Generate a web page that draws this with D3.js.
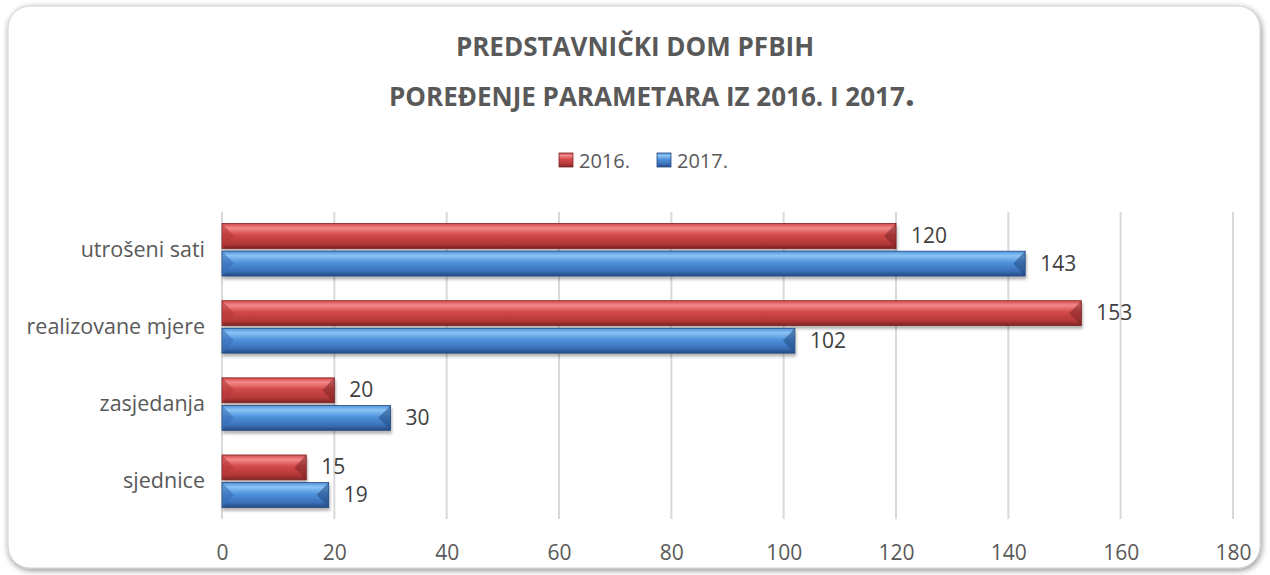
<!DOCTYPE html>
<html>
<head>
<meta charset="utf-8">
<script src="https://cdn.jsdelivr.net/npm/d3@7"></script>
<style>
  html, body { margin: 0; padding: 0; background: #fff; }
  svg { display: block; font-family: "Open Sans", "Liberation Sans", sans-serif; }
</style>
</head>
<body>
<svg id="chart" width="1270" height="575"></svg>
<script>
"use strict";

var categories = ["utrošeni sati", "realizovane mjere", "zasjedanja", "sjednice"];
var seriesNames = ["2016.", "2017."];
var values2016 = [120, 153, 20, 15];
var values2017 = [143, 102, 30, 19];
var xTicks = [0, 20, 40, 60, 80, 100, 120, 140, 160, 180];
var titleLines = ["PREDSTAVNIČKI DOM PFBIH", "POREĐENJE PARAMETARA IZ 2016. I 2017"];

(function () {
    var svg = d3.select("#chart"),
        defs = svg.append("defs"),
        margin = { left: 222, right: 37, top: 212, bottom: 56 },
        W = 1270,
        H = 575,
        font = "\"Open Sans\", \"Liberation Sans\", sans-serif",
        colors = {
            "2016.": ["#f48a8a", "#d24a4a", "#b53838", "#7e2424"],
            "2017.": ["#8cc4f5", "#4f93dc", "#3a70b8", "#244a80"]
        };

    // frame shadow
    var sh = defs.append("filter").attr("id", "frameShadow")
        .attr("x", "-5%").attr("y", "-5%").attr("width", "110%").attr("height", "115%");
    sh.append("feGaussianBlur").attr("in", "SourceAlpha").attr("stdDeviation", 3);
    sh.append("feOffset").attr("dx", 1).attr("dy", 2).attr("result", "b");
    sh.append("feComponentTransfer").append("feFuncA").attr("type", "linear").attr("slope", 0.45);
    var m = sh.append("feMerge");
    m.append("feMergeNode");
    m.append("feMergeNode").attr("in", "SourceGraphic");

    var bs = defs.append("filter").attr("id", "barShadow")
        .attr("x", "-2%").attr("y", "-20%").attr("width", "105%").attr("height", "160%");
    bs.append("feGaussianBlur").attr("in", "SourceAlpha").attr("stdDeviation", 1.5);
    bs.append("feOffset").attr("dx", 1).attr("dy", 3);
    bs.append("feComponentTransfer").append("feFuncA").attr("type", "linear").attr("slope", 0.3);
    var bm = bs.append("feMerge");
    bm.append("feMergeNode");
    bm.append("feMergeNode").attr("in", "SourceGraphic");

    seriesNames.forEach(function (s, i) {
        var c = colors[s];
        var g = defs.append("linearGradient").attr("id", "grad" + i)
            .attr("x1", 0).attr("y1", 0).attr("x2", 0).attr("y2", 1);
        g.append("stop").attr("offset", "0%").attr("stop-color", c[1]);
        g.append("stop").attr("offset", "18%").attr("stop-color", c[0]);
        g.append("stop").attr("offset", "45%").attr("stop-color", c[1]);
        g.append("stop").attr("offset", "80%").attr("stop-color", c[2]);
        g.append("stop").attr("offset", "100%").attr("stop-color", c[3]);
    });

    svg.append("rect")
        .attr("x", 8).attr("y", 6)
        .attr("width", 1252).attr("height", 562)
        .attr("rx", 22)
        .attr("fill", "#fff")
        .attr("stroke", "#d0d0d0")
        .attr("filter", "url(#frameShadow)");

    // title (second line ends in an oversized full stop, as in the original)
    var titles = svg.selectAll("text.title")
        .data(titleLines)
        .enter().append("text")
        .attr("class", "title")
        .attr("x", function (d, i) { return i === 0 ? 635 : 652; })
        .attr("y", function (d, i) { return 56 + i * 50; })
        .attr("text-anchor", "middle")
        .attr("font-size", 26)
        .attr("font-weight", "bold")
        .attr("fill", "#595959");
    titles.append("tspan").text(function (d) { return d; });
    titles.filter(function (d, i) { return i === 1; })
        .append("tspan").attr("font-size", 36).text(".");

    var x = d3.scaleLinear().domain([0, 180]).range([margin.left, W - margin.right]);
    var y0 = d3.scaleBand().domain(categories).range([margin.top, H - margin.bottom]).paddingInner(0.32).paddingOuter(0.15);
    var y1 = d3.scaleBand().domain(seriesNames).range([0, y0.bandwidth()]).paddingInner(0.1);

    // grid
    svg.append("g").selectAll("line")
        .data(xTicks)
        .enter().append("line")
        .attr("x1", function (d) { return x(d); })
        .attr("x2", function (d) { return x(d); })
        .attr("y1", margin.top)
        .attr("y2", H - margin.bottom)
        .attr("stroke", "#d9d9d9")
        .attr("stroke-width", 2);

    // x axis labels
    var xAxis = d3.axisBottom(x).tickValues(xTicks).tickSize(0).tickPadding(26);
    var gx = svg.append("g").attr("transform", "translate(0," + (H - margin.bottom) + ")").call(xAxis);
    gx.select(".domain").remove();
    gx.selectAll("text").attr("font-size", 21).attr("fill", "#595959").attr("font-family", font);

    // y axis labels
    var yAxis = d3.axisLeft(y0).tickSize(0).tickPadding(17);
    var gy = svg.append("g").attr("transform", "translate(" + margin.left + ",0)").call(yAxis);
    gy.select(".domain").remove();
    gy.selectAll("text").attr("font-size", 21.5).attr("fill", "#595959").attr("font-family", font);

    var rows = categories.map(function (c, i) {
        return { cat: c, vals: [values2016[i], values2017[i]] };
    });

    var groups = svg.append("g").selectAll("g")
        .data(rows)
        .enter().append("g")
        .attr("transform", function (d) { return "translate(0," + y0(d.cat) + ")"; });

    var bars = groups.selectAll("g.bar")
        .data(function (d) {
            return d.vals.map(function (v, i) { return { s: seriesNames[i], i: i, v: v }; });
        })
        .enter().append("g").attr("class", "bar");

    var bh = y1.bandwidth(), bev = 6;

    bars.append("rect")
        .attr("x", x(0))
        .attr("y", function (d) { return y1(d.s); })
        .attr("width", function (d) { return x(d.v) - x(0); })
        .attr("height", bh)
        .attr("fill", function (d) { return "url(#grad" + d.i + ")"; })
        .attr("stroke", function (d) { return colors[d.s][3]; })
        .attr("stroke-width", 0.8)
        .attr("filter", "url(#barShadow)");

    // bevelled ends
    bars.append("path")
        .attr("d", function (d) {
            var l = x(0), t = y1(d.s);
            return "M" + l + "," + t + "L" + (l + bev * 2) + "," + (t + bh / 2) + "L" + l + "," + (t + bh) + "Z";
        })
        .attr("fill", function (d) { return colors[d.s][2]; })
        .attr("opacity", 0.6);
    bars.append("path")
        .attr("d", function (d) {
            var r = x(d.v), t = y1(d.s);
            return "M" + r + "," + t + "L" + (r - bev * 2) + "," + (t + bh / 2) + "L" + r + "," + (t + bh) + "Z";
        })
        .attr("fill", function (d) { return colors[d.s][3]; })
        .attr("opacity", 0.55);

    bars.append("text")
        .attr("x", function (d) { return x(d.v) + 15; })
        .attr("y", function (d) { return y1(d.s) + bh / 2 + 7; })
        .attr("font-size", 21)
        .attr("fill", "#404040")
        .text(function (d) { return d.v; });

    // legend
    var legend = svg.append("g").selectAll("g")
        .data(seriesNames)
        .enter().append("g")
        .attr("transform", function (d, i) { return "translate(" + (559 + i * 98) + ",153)"; });
    legend.append("rect")
        .attr("width", 14).attr("height", 14)
        .attr("fill", function (d, i) { return "url(#grad" + i + ")"; })
        .attr("stroke", function (d) { return colors[d][3]; })
        .attr("stroke-width", 0.8);
    legend.append("text")
        .attr("x", 20).attr("y", 15)
        .attr("font-size", 20)
        .attr("fill", "#595959")
        .text(function (d) { return d; });
}());
</script>
</body>
</html>
